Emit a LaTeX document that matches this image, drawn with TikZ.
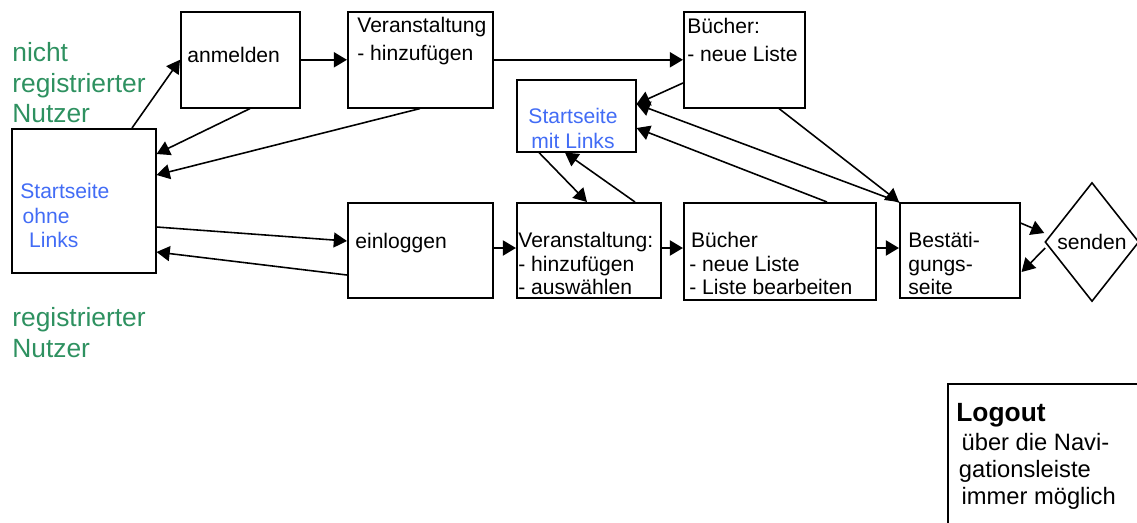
\documentclass[tikz,border=0pt]{standalone}
\usepackage{fontspec}
\setmainfont{Liberation Sans}
\usetikzlibrary{arrows.meta,shapes.geometric,calc}
\definecolor{nutzgruen}{RGB}{46,145,96}
\definecolor{startblau}{RGB}{66,108,245}

\begin{document}
\begin{tikzpicture}[x=0.02cm, y=-0.02cm,
    box/.style={draw, line width=0.9pt, inner sep=0pt, anchor=north west},
    txt/.style={inner sep=0pt, anchor=north west, align=left, font=\fontsize{12}{13.4}\selectfont},
    toptxt/.style={txt, font=\fontsize{12}{16}\selectfont},
    blau/.style={txt, text=startblau, font=\fontsize{12}{13.9}\selectfont},
    gruen/.style={txt, text=nutzgruen, font=\fontsize{15}{17.4}\selectfont},
    pfeil/.style={-{Triangle[length=7.5pt,width=8.5pt]}, line width=0.9pt},
    dick/.style={pfeil, line width=1.4pt}]
        \useasboundingbox (0,0) rectangle (1137,522);
        \clip (0,0) rectangle (1137,522);

        \node[box, minimum width=2.88cm, minimum height=2.88cm] (ohne) at (11,128) {};
        \node[box, minimum width=2.38cm, minimum height=1.92cm] (anm) at (180,11) {};
        \node[box, minimum width=2.9cm, minimum height=1.92cm] (vhin) at (347,11) {};
        \node[box, minimum width=2.42cm, minimum height=1.92cm] (bneu) at (683,11) {};
        \node[box, minimum width=2.38cm, minimum height=1.44cm] (mit) at (516,79) {};
        \node[box, minimum width=2.9cm, minimum height=1.9cm] (einl) at (347,202) {};
        \node[box, minimum width=2.88cm, minimum height=1.9cm] (vaus) at (516,202) {};
        \node[box, minimum width=3.84cm, minimum height=1.94cm] (bbea) at (683,202) {};
        \node[box, minimum width=2.4cm, minimum height=1.9cm] (best) at (899,202) {};
        \node[box, minimum width=5cm, minimum height=5cm] (logout) at (947,383) {};
        \node[draw, diamond, line width=0.9pt, minimum width=1.88cm, minimum height=2.38cm,
              inner sep=0pt, font=\fontsize{12}{14}\selectfont] (senden) at (1092,242) {senden};

        \node[gruen] (nichtreg) at (12,42) {nicht\\registrierter\\Nutzer};
        \node[gruen] (reg) at (12,307) {registrierter\\Nutzer};

        \node[txt] (anmtxt) at (187,47) {anmelden};
        \node[toptxt] (vhintxt) at (357,17) {Veranstaltung\\- hinzufügen};
        \node[toptxt] (bneutxt) at (687,18) {Bücher:\\- neue Liste};
        \node[blau, anchor=north, align=center] (mittxt) at (573,108) {Startseite\\mit Links};
        \node[blau] (ohnetxt) at (20,183) {Startseite\\\hspace{1.3pt}ohne\\\hspace{5pt}Links};
        \node[txt] (einltxt) at (355,233) {einloggen};
        \node[txt] (vaustxt) at (518,232) {Veranstaltung:\\- hinzufügen\\- auswählen};
        \node[txt] (bbeatxt) at (689,232) {\hspace{1pt}Bücher\\- neue Liste\\- Liste bearbeiten};
        \node[txt] (besttxt) at (908,232) {Bestäti-\\gungs-\\seite};
        \node[txt, font=\fontsize{13.5}{15.4}\selectfont] (logtxt) at (956,403)
              {\textbf{\fontsize{15}{16}\selectfont Logout}\\[1pt]\hspace{3pt}über die Navi-\\\hspace{1.5pt}gationsleiste\\\hspace{3pt}immer möglich};

        \draw[pfeil] ($(ohne.north west)+(121,0)$) -- (anm.west);
        \draw[pfeil] ($(anm.south west)+(70,0)$) -- ($(ohne.north east)+(0,26)$);
        \draw[pfeil] ($(vhin.south west)+(73,0)$) -- ($(ohne.north east)+(0,47)$);
        \draw[dick] (anm.east) -- (vhin.west);
        \draw[dick] (vhin.east) -- (bneu.west);
        \draw[pfeil] ($(ohne.north east)+(0,99)$) -- ($(einl.north west)+(0,39)$);
        \draw[pfeil] ($(einl.north west)+(0,73)$) -- ($(ohne.north east)+(0,124)$);
        \draw[dick] ($(einl.north east)+(0,46)$) -- ($(vaus.north west)+(0,46)$);
        \draw[pfeil] ($(mit.south west)+(23,0)$) -- ($(vaus.north west)+(71,0)$);
        \draw[pfeil] ($(vaus.north west)+(119,0)$) -- ($(mit.south west)+(49,0)$);
        \draw[pfeil] ($(bneu.north west)+(0,72)$) -- ($(mit.north east)+(0,25)$);
        \draw[pfeil] (best.north west) -- ($(mit.north east)+(0,25)$);
        \draw[pfeil] ($(bneu.south west)+(96,0)$) -- (best.north west);
        \draw[pfeil] ($(bbea.north west)+(144,0)$) -- ($(mit.north east)+(0,49)$);
        \draw[dick] ($(vaus.north east)+(0,46)$) -- ($(bbea.north west)+(0,46)$);
        \draw[dick] ($(bbea.north east)+(0,46)$) -- ($(best.north west)+(0,46)$);
        \draw[pfeil] ($(best.north east)+(0,21)$) -- ($(senden.west)+(0,-9)$);
        \draw[pfeil] ($(senden.west)+(1,6)$) -- ($(best.north east)+(1,70)$);
      \end{tikzpicture}
\end{document}
